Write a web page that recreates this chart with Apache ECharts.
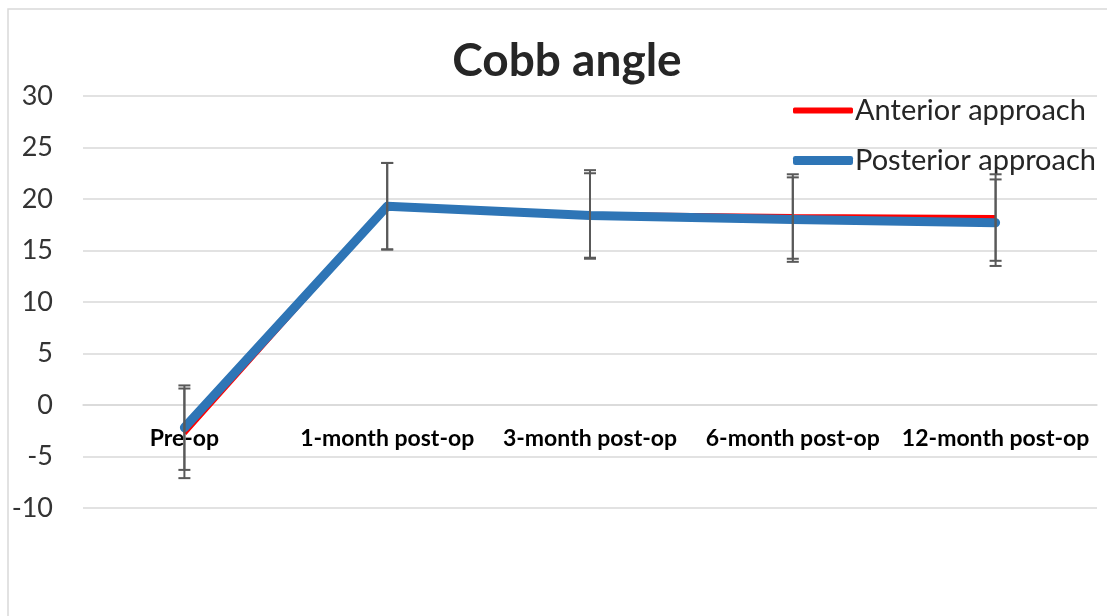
<!DOCTYPE html>
<html>
<head>
<meta charset="utf-8">
<title>Cobb angle</title>
<script src="https://cdn.jsdelivr.net/npm/echarts@6/dist/echarts.min.js"></script>
<style>
  html, body { margin: 0; padding: 0; background: #fff; }
  #chart { width: 1107px; height: 616px; }
</style>
</head>
<body>
<div id="chart"></div>
<script>
// data
const categories = ['Pre-op', '1-month post-op', '3-month post-op', '6-month post-op', '12-month post-op']
const anteriorMean = [-2.75, 19.3, 18.5, 18.3, 18.2]
const anteriorSd = [4.35, 4.2, 4.3, 4.1, 4.2]
const posteriorMean = [-2.2, 19.3, 18.4, 18.0, 17.7]
const posteriorSd = [4.1, 4.2, 4.1, 4.1, 4.2]
const yTicks = { min: -10, max: 30, step: 5 }

const font = 'Lato, "Liberation Sans", sans-serif'
const barColor = '#595959'

// error bar items: [categoryIndex, low, high]
function errorData(mean, sd) {
  return mean.map((m, i) => [i, m - sd[i], m + sd[i]])
}

function renderErrorBar(params, api) {
  const x = api.value(0)
  const lo = api.coord([x, api.value(1)])
  const hi = api.coord([x, api.value(2)])
  const half = 6
  const style = { stroke: barColor, lineWidth: 2 }
  return {
    type: 'group',
    children: [
      { type: 'line', shape: { x1: hi[0], y1: hi[1], x2: lo[0], y2: lo[1] }, style: style },
      { type: 'line', shape: { x1: hi[0] - half, y1: hi[1], x2: hi[0] + half, y2: hi[1] }, style: style },
      { type: 'line', shape: { x1: lo[0] - half, y1: lo[1], x2: lo[0] + half, y2: lo[1] }, style: style }
    ]
  }
}

const chart = echarts.init(document.getElementById('chart'))
const option = {
  animation: false,
  backgroundColor: '#fff',
  textStyle: { fontFamily: font },
  graphic: [{
    type: 'rect',
    shape: { x: 8, y: 9, width: 1200, height: 700 },
    style: { fill: 'none', stroke: '#d9d9d9', lineWidth: 1.5 },
    silent: true
  }],
  title: {
    text: 'Cobb angle',
    left: 562,
    top: 33,
    textAlign: 'center',
    textStyle: { fontFamily: font, fontSize: 46, fontWeight: 'bold', color: '#262626' }
  },
  legend: [{
    data: [{ name: 'Anterior approach', icon: 'roundRect' }],
    left: 788,
    top: 91,
    itemWidth: 60,
    itemHeight: 6,
    itemGap: 0,
    textStyle: { fontFamily: font, fontSize: 29, color: '#262626', padding: [0, 0, 0, -3] }
  }, {
    data: [{ name: 'Posterior approach', icon: 'roundRect' }],
    left: 788,
    top: 141,
    itemWidth: 60,
    itemHeight: 9,
    itemGap: 0,
    textStyle: { fontFamily: font, fontSize: 29, color: '#262626', padding: [0, 0, 0, -3] }
  }],
  grid: { left: 83, right: 10, top: 96, bottom: 108, containLabel: false },
  xAxis: {
    type: 'category',
    data: categories,
    boundaryGap: true,
    // labels sit on the zero line, like the original
    offset: -103,
    axisLine: { onZero: false, lineStyle: { color: '#d9d9d9', width: 1.5 } },
    axisTick: { show: false },
    axisLabel: {
      interval: 0,
      margin: 22,
      fontFamily: font,
      fontSize: 23,
      fontWeight: 'bold',
      color: '#000'
    }
  },
  yAxis: {
    type: 'value',
    min: yTicks.min,
    max: yTicks.max,
    interval: yTicks.step,
    axisLine: { show: false },
    axisTick: { show: false },
    splitLine: { lineStyle: { color: '#d9d9d9', width: 1.5 } },
    axisLabel: { margin: 30, fontFamily: font, fontSize: 27, color: '#333' }
  },
  series: [{
    name: 'Anterior approach',
    type: 'line',
    data: anteriorMean,
    showSymbol: false,
    color: '#ff0000',
    lineStyle: { width: 5, color: '#ff0000' },
    z: 2
  }, {
    name: 'Posterior approach',
    type: 'line',
    data: posteriorMean,
    showSymbol: false,
    color: '#2e75b6',
    lineStyle: { width: 9, color: '#2e75b6', cap: 'round', join: 'round' },
    z: 3
  }, {
    type: 'custom',
    renderItem: renderErrorBar,
    data: errorData(anteriorMean, anteriorSd),
    encode: { x: 0, y: [1, 2] },
    silent: true,
    z: 5
  }, {
    type: 'custom',
    renderItem: renderErrorBar,
    data: errorData(posteriorMean, posteriorSd),
    encode: { x: 0, y: [1, 2] },
    silent: true,
    z: 5
  }]
}
chart.setOption(option)
window.addEventListener('resize', () => {
  chart.resize()
})
</script>
</body>
</html>
